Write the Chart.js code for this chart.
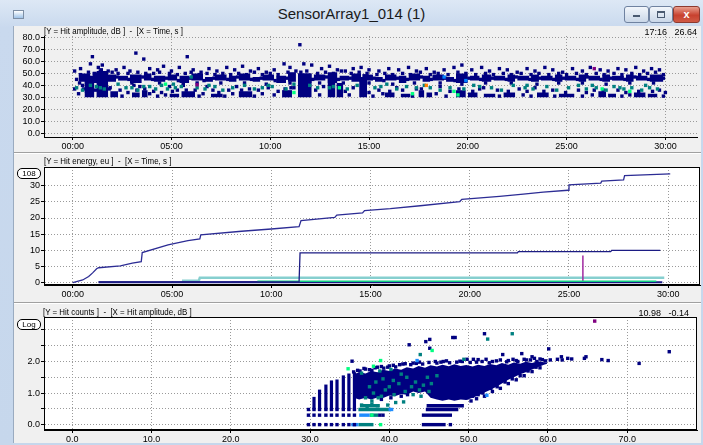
<!DOCTYPE html>
<html>
<head>
<meta charset="utf-8">
<script src="https://cdn.jsdelivr.net/npm/chart.js@4.4.1/dist/chart.umd.min.js"></script>
<style>
body{margin:0;width:703px;height:445px;overflow:hidden;position:relative;font-family:"Liberation Sans",Arial,sans-serif;background:linear-gradient(#dde8f5,#c9d9ee 28px,#c6d7ec);}
.abs{position:absolute}
#title{left:0;top:5px;width:703px;text-align:center;font-size:15px;color:#1a1a1a}
#icon{left:13px;top:10px;width:9px;height:7px;border:1px solid #7d8ea4;background:linear-gradient(#ffffff,#9fc3e8)}
.btn{top:6px;height:15px;border:1px solid #6f82a0;border-radius:3px;background:linear-gradient(#f2f6fb,#cad7e8)}
#bmin{left:624px;width:23px}
#bmax{left:649px;width:22px}
#bclose{left:673px;width:25px;border-color:#8d3a30;background:linear-gradient(#e9a08f,#c8412f 55%,#d05a45);color:#fff;font-size:11px;font-weight:bold;text-align:center;line-height:14px}
#bmin i{position:absolute;left:8px;top:8px;width:7px;height:2px;background:#4a5a70}
#bmax i{position:absolute;left:7px;top:4px;width:6px;height:4px;border:1px solid #4a5a70;border-top-width:2px}
#client{left:13px;top:26px;width:688px;height:417px;background:#f0f0f0;border-left:1px solid #9aabc0;box-sizing:border-box}
.split{left:14px;width:687px;height:1px;background:#a0a0a0;border-bottom:1px solid #fff}
.hdr{font-size:9px;white-space:pre;color:#000;transform:scaleX(.88);transform-origin:0 0}
.rt{font-size:9px;white-space:pre;color:#000;text-align:right}
.badge{left:17px;width:22px;height:9px;border:1px solid #000;border-radius:5px;font-size:8px;line-height:9px;text-align:center;background:#fff}
canvas{position:absolute}
</style>
</head>
<body>
<div id="icon" class="abs"></div>
<div id="title" class="abs">SensorArray1_014 (1)</div>
<div id="bmin" class="abs btn"><i></i></div>
<div id="bmax" class="abs btn"><i></i></div>
<div id="bclose" class="abs btn">x</div>
<div id="client" class="abs"></div>

<canvas id="ampChart" width="687" height="125" style="left:14px;top:27px"></canvas>
<div class="abs split" style="top:152px"></div>
<canvas id="energyChart" width="687" height="146" style="left:14px;top:156px"></canvas>
<div class="abs split" style="top:302px"></div>
<canvas id="countChart" width="687" height="137" style="left:14px;top:306px"></canvas>

<div class="abs hdr" style="left:44px;top:26px">[Y = Hit amplitude, dB ]  -  [X = Time, s ]</div>
<div class="abs rt" style="right:6px;top:27px">17:16   26.64</div>
<div class="abs hdr" style="left:44px;top:156px">[Y = Hit energy, eu ]  -  [X = Time, s ]</div>
<div class="abs badge" style="top:168px">108</div>
<div class="abs hdr" style="left:43px;top:307px">[Y = Hit counts ]  -  [X = Hit amplitude, dB ]</div>
<div class="abs rt" style="right:14px;top:308px">10.98   -0.14</div>
<div class="abs badge" style="top:319px">Log</div>

<script>
// ---- top panel: hit amplitude (dB) vs time (minutes) ----
const timeTicks = [0, 5, 10, 15, 20, 25, 30];
const ampTicks = [0, 10, 20, 30, 40, 50, 60, 70, 80];

// dense clusters of hits: [from, to, low dB, high dB]
const ampClusters = [
    [0.3,0.9,43,50],[1.0,1.5,42,51],[1.6,2.2,43,49],[2.3,2.8,44,48],[2.9,3.5,42,49],[3.6,4.0,44,50],
    [4.1,4.7,43,48],[4.8,5.3,44,49],[5.4,5.9,42,48],[6.0,6.6,44,50],[6.7,7.1,43,47],[7.2,7.8,44,49],
    [7.9,8.3,43,48],[8.4,9.0,44,50],[9.1,9.5,43,47],[9.6,10.2,44,49],[10.3,10.8,42,48],[10.9,11.3,43,51],
    [11.4,12.1,42,50],[12.2,12.8,44,49],[12.9,13.4,42,51],[13.5,14.0,44,48],[14.1,14.6,43,50],[14.7,15.2,44,49],
    [15.3,15.7,43,47],[15.8,16.4,44,49],[16.5,16.9,42,48],[17.0,17.6,44,50],[17.7,18.1,43,48],[18.2,18.8,44,49],
    [18.9,19.3,43,47],[19.4,20.0,42,50],[20.1,20.6,44,48],[20.7,21.2,43,49],[21.3,21.9,44,48],[22.0,22.4,43,49],
    [22.5,23.1,44,48],[23.2,23.6,43,49],[23.7,24.3,44,48],[24.4,24.8,43,49],[24.9,25.5,44,48],[25.6,26.0,43,49],
    [26.1,26.7,44,48],[26.8,27.2,43,49],[27.3,27.9,44,48],[28.0,28.4,43,49],[28.5,29.1,44,48],[29.2,29.9,43,49],
    [0.6,1.1,30,48],[1.2,1.8,30,52],[1.9,2.3,30,35],[3.0,3.4,30,34],[3.5,3.8,30,36],[4.9,5.4,30,33],[5.5,6.2,30,35],
    [7.0,7.6,30,33],[8.4,9.1,30,35],[10.6,11.1,30,36],[11.4,12.1,30,50],[12.9,13.3,30,46],[13.35,13.7,30,42],
    [14.5,14.9,30,47],[15.8,16.3,30,34],[16.6,17.1,30,33],[17.5,17.8,30,36],[17.9,18.2,30,34],[19.4,19.9,30,36],
    [20.0,20.5,30,34],[20.8,21.4,30,33],[21.8,22.4,30,34],[23.5,24.1,30,34],[24.6,25.4,30,33],[26.6,27.0,30,35],
    [27.1,27.5,30,33],[28.4,29.0,30,34],[29.1,29.6,30,33]
];
const ampNavy = [
    [0.1,52],[0.4,54],[0.9,58],[1.0,64],[1.3,55],[1.5,57],[1.8,52],[2.2,53],[2.6,55],[2.9,52],
    [3.2,67],[3.6,62],[3.9,54],[4.3,53],[4.6,56],[5.0,52],[5.4,55],[5.8,64],[6.1,53],[6.5,51],
    [6.9,54],[7.3,52],[7.8,55],[8.2,53],[8.6,56],[9.0,52],[9.4,54],[9.8,51],[10.2,53],[10.7,58],
    [11.0,55],[11.5,74],[11.7,58],[12.1,57],[12.6,54],[13.0,56],[13.4,53],[13.8,52],[14.2,54],[14.6,55],
    [15.0,53],[15.5,52],[16.0,54],[16.5,53],[17.0,55],[17.4,52],[17.9,54],[18.3,51],[18.8,53],[19.3,55],
    [19.7,57],[20.2,53],[20.7,55],[21.1,52],[21.6,54],[22.0,53],[22.5,51],[23.0,54],[23.4,52],[23.9,55],
    [24.3,53],[24.8,51],[25.3,54],[25.8,52],[26.2,55],[26.7,53],[27.1,52],[27.6,54],[28.0,53],[28.5,55],
    [28.9,52],[29.3,54],[29.7,53],
    [0.2,45],[0.4,49],[0.8,51],[1.1,50],[1.4,52],[2.0,51],[2.3,50],[2.8,50],[3.3,51],[3.7,50],
    [4.1,50],[4.4,51],[4.9,50],[5.3,49],[5.7,50],[6.0,51],[6.4,49],[6.8,50],[7.2,49],[7.6,50],
    [8.0,49],[8.4,50],[8.8,49],[9.2,51],[9.6,49],[10.0,50],[10.4,49],[10.9,51],[11.3,52],[12.4,50],
    [12.8,51],[13.2,50],[13.6,52],[14.1,50],[14.5,51],[14.9,50],[15.4,49],[15.8,50],[16.2,49],[16.7,50],
    [17.1,49],[17.6,51],[18.1,49],[18.5,50],[19.0,49],[19.5,51],[19.9,50],[20.4,49],[20.9,50],[21.3,49],
    [21.8,50],[22.2,49],[22.7,50],[23.2,49],[23.6,50],[24.1,49],[24.6,50],[25.0,49],[25.5,50],[26.0,49],
    [26.5,50],[26.9,49],[27.4,50],[27.8,49],[28.3,50],[28.7,49],[29.1,50],[29.5,51],[29.9,49],
    [0.35,42],[0.95,46],[1.55,44],[2.25,47],[2.85,45],[3.55,47],[4.05,45],[4.75,46],[5.35,44],[5.95,46],
    [6.65,44],[7.15,46],[7.85,45],[8.35,47],[9.05,45],[9.55,46],[10.25,44],[10.85,46],[12.15,45],[12.85,47],
    [13.45,45],[14.05,46],[14.65,44],[15.25,46],[15.75,44],[16.45,46],[16.95,45],[17.65,47],[18.15,45],[18.85,46],
    [19.35,44],[20.05,46],[20.65,45],[21.25,46],[21.95,45],[22.45,47],[23.15,45],[23.65,46],[24.35,45],[24.85,46],
    [25.55,45],[26.05,47],[26.75,45],[27.25,46],[27.95,45],[28.45,47],[29.15,45],[29.9,46],
    [0.7,42],[1.7,42],[3.0,42],[4.4,42],[5.6,41],[6.3,42],[7.5,42],[8.7,42],[9.8,41],[11.0,42],
    [12.5,42],[13.7,42],[15.0,42],[16.2,41],[17.3,42],[18.6,42],[19.7,41],[20.9,42],[22.2,42],[23.5,41],
    [24.6,42],[25.8,42],[27.0,41],[28.2,42],[29.4,42],
    [0.1,37],[0.3,33],[0.5,40],[0.7,35],[1.9,38],[2.1,33],[2.4,36],[2.5,31],[2.8,34],[3.1,40],
    [3.4,39],[3.9,33],[4.1,35],[4.3,31],[4.5,34],[4.7,32],[4.9,39],[5.3,36],[5.6,40],[6.2,36],
    [6.4,31],[6.6,33],[6.8,39],[7.1,36],[7.4,34],[7.7,31],[7.9,36],[8.1,33],[8.3,39],[9.2,31],
    [9.4,36],[9.6,33],[9.9,38],[10.2,32],[10.4,35],[11.2,38],[12.3,36],[12.5,32],[12.7,39],[13.8,35],
    [14.0,32],[14.2,38],[15.0,34],[15.2,31],[15.5,36],[15.7,33],[16.4,38],[16.7,36],[17.2,31],[17.4,37],
    [18.4,33],[18.6,39],[18.9,31],[19.1,35],[20.6,37],[20.8,38],[21.5,36],[21.6,31],[22.6,37],[22.8,32],
    [23.0,35],[23.2,31],[23.4,38],[24.3,36],[24.4,31],[25.6,36],[25.8,31],[26.0,34],[26.3,32],[26.4,36],
    [27.6,36],[27.8,31],[28.0,34],[28.2,32],[29.7,36],[29.9,31],[30.0,34],
    [0.55,37],[1.15,36],[1.85,37],[3.25,36],[3.65,37],[5.05,35],[5.75,36],[8.55,36],[8.95,37],[10.75,37],
    [11.05,38],[13.05,47],[14.75,48],[16.05,35],[17.65,37],[19.55,37],[20.25,35],[22.05,35],[23.85,35],[24.95,34],
    [26.85,36],[28.65,35],[29.35,35],[1.45,53],[11.55,51],[11.85,52]
];
const ampTeal = [
    [0.2,38],[0.5,36],[1.2,39],[1.6,37],[2.3,41],[2.7,38],[3.0,38],[3.3,36],[3.9,39],[4.2,37],
    [4.5,40],[4.8,37],[5.2,38],[5.5,39],[6.0,47],[6.3,38],[6.7,37],[7.2,39],[7.6,36],[8.1,38],
    [8.7,40],[9.2,37],[9.6,38],[10.1,39],[10.8,37],[11.2,41],[12.4,38],[13.2,39],[13.9,37],[14.4,40],
    [15.3,38],[15.9,41],[16.4,37],[16.9,39],[17.4,38],[17.8,40],[18.6,36],[19.1,38],[19.8,37],[20.6,39],
    [21.2,38],[21.7,36],[22.3,40],[22.9,38],[23.3,37],[24.0,39],[24.5,36],[25.1,38],[25.6,40],[26.0,37],
    [26.5,38],[27.0,36],[27.4,39],[27.9,37],[28.3,38],[28.8,36],[29.2,38],[29.6,37],
    [0.9,40],[1.4,38],[3.6,39],[5.1,41],[6.9,40],[9.9,40],[12.0,40],[13.0,38],[15.6,39],[18.1,38],
    [20.3,40],[23.0,40],[26.3,40],[27.7,38],[29.0,40]
];
const ampGreen = [[4.7,41],[11.2,34],[13.5,38],[17.2,33],[19.3,35],[19.5,32],[26.8,37],[28.2,35]];
const ampBlue = [[18.8,47],[19.9,44]];
const ampOrange = [[17.9,40]];
const ampPurple = [[6.3,40.5],[26.4,54]];

// ---- middle panel: cumulative hit energy vs time ----
const energyTicks = [0, 5, 10, 15, 20, 25, 30];
const energyMain = [[0,0],[0.5,0.8],[0.8,1.9],[1.0,3.0],[1.2,4.3],[1.3,4.6],[2.4,5.2],[3.0,6.0],[3.45,6.5],[3.5,9.3],
    [4.8,11.7],[5.8,13.0],[6.4,13.5],[6.45,14.8],[8.5,15.9],[10.0,16.6],[11.4,17.3],[11.5,19.2],[13.2,20.2],[13.3,20.9],
    [14.6,21.6],[14.7,22.3],[16.0,22.9],[17.5,23.8],[19.5,25.1],[19.6,25.8],[21.5,26.7],[22.7,27.4],[23.7,28.0],[24.95,28.6],
    [25.0,30.3],[26.6,30.8],[26.65,31.4],[27.75,31.8],[27.8,33.1],[30.1,33.7]];
const energyCh2 = [[1.3,0.2],[11.4,0.2],[11.45,9.2],[22.4,9.2],[22.45,9.6],[27.1,9.6],[27.15,10.0],[29.6,10.0]];
const energyBase = [[1.3,0.1],[29.7,0.1]];
const energyTeal = [[5.5,0.6],[6.35,0.6],[6.4,1.5],[29.8,1.5]];
const energyGreen = [[9.3,0.45],[29.4,0.45]];
const energyMagenta = [[8.0,0.1],[25.7,0.1],[25.7,8.4]];

// ---- bottom panel: log hit counts vs amplitude ----
const dbTicks = [0, 10, 20, 30, 40, 50, 60, 70];
const countTicks = [0, 0.5, 1, 1.5, 2, 2.5, 3];
const countLabels = [0, 1, 2];
const stackAmp = [29.8, 30.5, 31.2, 32.0, 32.7, 33.4, 34.2, 34.9, 35.6];
const stackTop = [0.48, 0.88, 1.11, 1.27, 1.40, 1.43, 1.56, 1.62, 1.66];
const stackRows = [0, 0.3, 0.48];
const navyRows = [[0, 44.1, 47.1], [0.3, 44.1, 47.9], [0.48, 44.6, 48.7], [0.6, 44.7, 49.4]];
const tealRows = [[0, 36.1, 38.0], [0.3, 37.5, 38.6], [0.48, 36.1, 40.2], [0.6, 36.3, 38.8]];
const blueRows = [[0, 35.2, 36.1], [0.3, 36.2, 37.5], [0.48, 39.9, 40.5]];
const blobAmp  = [35.5, 36.2, 37, 37.7, 38.5, 39.2, 40, 40.7, 41.5, 42.2, 43, 43.7, 44.5, 45.2, 46, 46.7, 47.5,
    48.2, 49, 49.7, 50.5, 51.2, 52, 52.7, 53.5, 54.2, 55, 55.7, 56.5, 57.2, 58, 58.7, 59.5, 59.9];
const blobHigh = [1.60, 1.66, 1.62, 1.70, 1.66, 1.74, 1.70, 1.78, 1.74, 1.82, 1.78, 1.86, 1.80, 1.88, 1.84, 1.90, 1.85,
    1.91, 1.86, 1.89, 1.84, 1.90, 1.86, 1.92, 1.88, 1.95, 1.90, 1.97, 1.93, 1.99, 1.95, 2.01, 1.98, 1.96];
const blobLow  = [0.85, 0.8, 0.85, 0.8, 0.86, 0.84, 0.92, 0.9, 0.97, 0.95, 1.05, 1.0, 1.05, 0.85, 0.8, 0.76, 0.8,
    0.76, 0.8, 0.78, 0.85, 0.92, 1.02, 1.1, 1.2, 1.3, 1.42, 1.5, 1.6, 1.66, 1.75, 1.82, 1.9, 1.93];
const countNavy = [
    [35.3,2.01],[35.5,1.67],[36.0,1.72],[36.8,1.78],[37.5,1.74],[38.2,1.8],[39.0,1.84],[39.8,1.82],[40.5,1.88],[41.3,1.9],
    [42.0,1.93],[42.5,2.53],[43.0,1.95],[43.8,1.98],[44.6,2.63],[45.1,2.7],[45.1,2.42],[45.8,2.0],[46.5,1.98],[47.2,2.02],
    [48.0,2.76],[48.3,2.76],[48.5,1.98],[49.2,2.0],[49.8,2.07],[50.6,2.07],[51.2,2.06],[52.0,2.88],[52.2,2.07],[53.0,2.0],
    [54.3,2.22],[55.0,2.03],[56.2,2.0],[56.7,2.25],[57.3,2.05],[58.0,2.15],[58.6,2.0],[59.3,2.06],[60.1,2.4],[61.2,2.07],
    [61.7,2.15],[62.5,2.1],[64.6,2.1],[64.8,2.15],[66.8,2.06],[67.6,2.03],[71.5,1.94],[75.3,2.31],
    [36.3,1.7],[37.0,1.76],[37.8,1.72],[38.5,1.82],[39.3,1.79],[40.0,1.86],[40.8,1.83],[41.7,1.92],[42.7,1.9],[43.4,1.94],
    [44.2,1.92],[45.0,1.97],[46.0,1.95],[46.8,2.0],[47.6,1.96],[48.9,2.01],[50.2,1.97],[51.0,1.98],[51.7,2.0],[52.6,1.96],
    [53.5,2.02],[54.0,2.05],[54.8,1.99],[55.6,2.07],[56.0,2.03],[57.0,2.07],[57.8,2.05],[58.3,2.1],[59.0,2.08],[59.7,2.02],
    [60.3,2.05],[61.8,2.05],[63.0,2.08],
    [39.0,0.8],[40.2,0.85],[41.5,0.9],[42.3,0.95],[49.8,0.85],[50.5,0.9],[51.2,0.95],[51.8,1.0],[52.8,1.15],[53.6,1.2],
    [54.6,1.35],[55.5,1.45],[56.5,1.55],[57.5,1.7],[58.5,1.82],[50.3,0.75],[51.0,0.82],[52.0,0.9],[53.0,1.05],[54.0,1.15],
    [55.0,1.3],[56.0,1.42],[57.0,1.55],[58.0,1.68],[59.0,1.8],[47.7,0],[38.8,0.3],[39.2,0.3]
];
const countTeal = [
    [36.5,0.62],[37.2,0.55],[37.8,0.65],[38.5,0.6],[37.0,0.85],[38.0,1.0],[39.0,0.9],[39.5,1.1],[40.0,1.2],[40.6,0.95],
    [41.2,1.3],[42.0,1.05],[42.8,1.2],[43.3,1.35],[43.8,1.1],[44.3,1.25],[44.8,1.5],[45.3,1.3],[46.0,1.55],[41.5,1.6],
    [40.2,1.75],[38.8,1.7],[43.9,2.22],[52.4,2.71],[55.5,2.88],[49.4,2.07],[36.5,1.63],[40.8,0.7],[41.8,0.72],[39.8,0.62],
    [37.5,1.2],[38.3,1.35],[39.2,1.45],[40.5,1.4],[42.2,1.5],[43.0,0.95],[44.0,0.9],[45.0,1.05],[37.8,0.75],[38.6,0.85]
];
const countGreen = [[38.9,2.03],[38.0,1.85],[34.8,1.77],[45.4,2.35],[38.9,0.0],[37.8,0.3]];
const countBlue = [[43.5,2.03],[52.3,0.93]];
const countPurple = [[65.9,3.28]];

// ---- helpers ----
const NAVY = '#000080', TEAL = '#008080';
const FONT = { family: 'Liberation Sans', size: 9 };

function pts(list) {
    return list.map(p => ({ x: p[0], y: p[1] }));
}
function dots(list, color) {
    return { type: 'scatter', data: pts(list), pointStyle: 'rect', pointRadius: 2.4, pointBorderWidth: 0, pointBackgroundColor: color, backgroundColor: color };
}
function seg(x0, y0, x1, y1, color, w) {
    return { type: 'line', data: [{ x: x0, y: y0 }, { x: x1, y: y1 }], borderColor: color, borderWidth: w, borderCapStyle: 'butt', pointRadius: 0, fill: false };
}
function line(list, color, w) {
    return { type: 'line', data: pts(list), borderColor: color, borderWidth: w, pointRadius: 0, fill: false, tension: 0 };
}
function axis(min, max, ticks, fmt, fit) {
    return {
        type: 'linear', min: min, max: max,
        afterBuildTicks: s => { s.ticks = ticks.map(v => ({ value: v })); },
        afterFit: fit,
        ticks: { font: FONT, color: '#000', padding: 1, autoSkip: false, maxRotation: 0, callback: fmt },
        grid: { color: '#9a9a9a', tickColor: '#000', tickLength: 3 },
        border: { display: true, color: '#000', dash: [1, 2] }
    };
}

const framePlugin = {
    id: 'frame',
    beforeDraw(chart, args, o) {
        const a = chart.chartArea, c = chart.ctx;
        c.save();
        c.fillStyle = o.bg;
        c.fillRect(a.left, a.top, a.right - a.left, a.bottom - a.top);
        c.restore();
    },
    afterDraw(chart, args, o) {
        if (!o.box) return;
        const a = chart.chartArea, c = chart.ctx;
        c.save();
        c.strokeStyle = '#000';
        c.lineWidth = 1;
        c.strokeRect(Math.round(a.left) + 0.5, Math.round(a.top) + 0.5, Math.round(a.right - a.left) - 1, Math.round(a.bottom - a.top) - 1);
        c.restore();
    }
};

function makeChart(id, datasets, xAxis, yAxis, padTop, bg, box) {
    return new Chart(document.getElementById(id), {
        type: 'scatter',
        data: { datasets: datasets },
        options: {
            responsive: false,
            animation: false,
            events: [],
            layout: { padding: { top: padTop, right: 1, left: 0, bottom: 0 } },
            scales: { x: xAxis, y: yAxis },
            plugins: { legend: { display: false }, tooltip: { enabled: false }, frame: { bg: bg, box: box } }
        },
        plugins: [framePlugin]
    });
}

const timeFmt = v => String(v).padStart(2, '0') + ':00';

// top chart
const ampSets = [
    dots(ampPurple, '#800080'), dots(ampOrange, '#ff8000'), dots(ampBlue, '#0080ff'), dots(ampGreen, '#00ff80'),
    dots(ampTeal, TEAL), dots(ampNavy, NAVY)
];
ampClusters.forEach(b => {
    ampSets.push({ type: 'line', data: [{ x: b[0], y: b[3] }, { x: b[1], y: b[3] }], borderWidth: 0, pointRadius: 0, fill: { value: b[2] }, backgroundColor: NAVY });
});
makeChart('ampChart', ampSets,
    axis(-1.45, 31.6, timeTicks, timeFmt, s => { s.height = 15; }),
    axis(-3.2, 81.3, ampTicks, v => v.toFixed(1), s => { s.width = 30; }),
    9, '#f0f0f0', false);

// middle chart
makeChart('energyChart', [
    line(energyMain, '#2c2c94', 1.3),
    line(energyCh2, '#1c1c84', 1.3),
    line(energyGreen, '#10d080', 1.5),
    line(energyBase, '#1c1c84', 2),
    line(energyMagenta, '#a02aa0', 1.5),
    line(energyTeal, '#86cfcf', 2.5)
],
    axis(-1.45, 31.6, timeTicks, timeFmt, s => { s.height = 17; }),
    axis(-0.75, 35.8, energyTicks, v => String(v), s => { s.width = 30; }),
    11, '#ffffff', true);

// bottom chart
const countSets = [
    dots(countPurple, '#800080'), dots(countGreen, '#00ff80'), dots(countBlue, '#1e8cff'),
    dots(countTeal, TEAL), dots(countNavy, NAVY)
];
stackAmp.forEach((a, i) => {
    stackRows.forEach(r => countSets.push(dots([[a, r]], NAVY)));
    countSets.push(seg(a, stackRows[2], a, stackTop[i], NAVY, 3.2));
});
blueRows.forEach(r => countSets.push(seg(r[1], r[0], r[2], r[0], '#1e8cff', 3.4)));
tealRows.forEach(r => countSets.push(seg(r[1], r[0], r[2], r[0], TEAL, 3.4)));
navyRows.forEach(r => countSets.push(seg(r[1], r[0], r[2], r[0], NAVY, 3.4)));
countSets.push({ type: 'line', data: blobAmp.map((a, i) => ({ x: a, y: blobLow[i] })), borderWidth: 0, pointRadius: 0, fill: false });
countSets.push({ type: 'line', data: blobAmp.map((a, i) => ({ x: a, y: blobHigh[i] })), borderWidth: 0, pointRadius: 0, fill: '-1', backgroundColor: NAVY });
makeChart('countChart', countSets,
    axis(-3.55, 78.8, dbTicks, v => v.toFixed(1), s => { s.height = 13; }),
    axis(-0.17, 3.41, countTicks, v => countLabels.includes(v) ? v.toFixed(1) : '', s => { s.width = 30; }),
    11, '#ffffff', true);
</script>
</body>
</html>
